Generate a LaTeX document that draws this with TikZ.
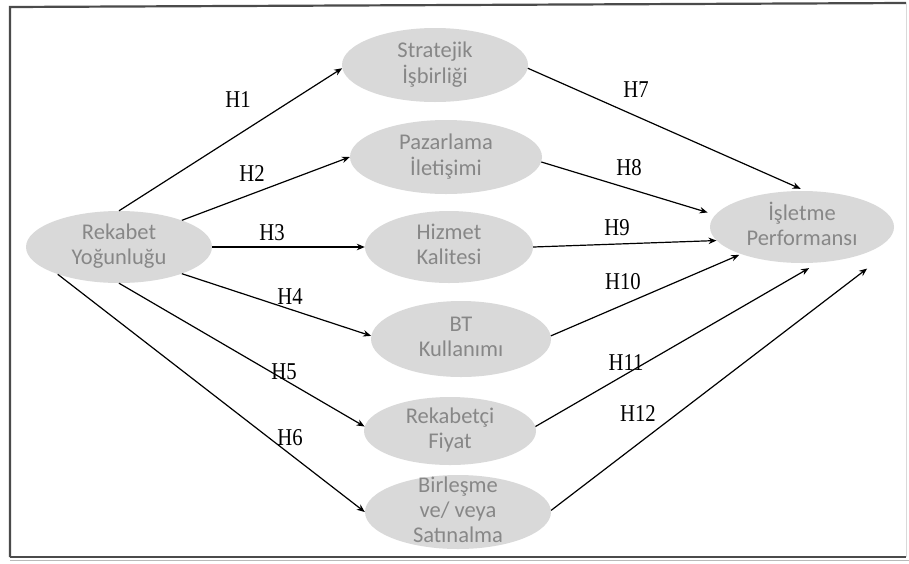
\documentclass[tikz,border=0pt]{standalone}
\usepackage{fontspec}
\setmainfont{Liberation Serif}
\newfontfamily\ellfont{Carlito}
\usetikzlibrary{shapes.geometric,arrows.meta}
\definecolor{ellfill}{RGB}{217,217,217}
\definecolor{elltext}{RGB}{135,135,135}
\definecolor{framecol}{RGB}{75,75,75}
% centred multi-line text that does not enlarge the ellipse
\newcommand{\elltxt}[1]{\raisebox{-5.6pt}[0pt][0pt]{\begin{tabular}{@{}c@{}}#1\end{tabular}}}
% slightly narrow serif for the path labels
\newcommand{\hl}[1]{\scalebox{0.9}[1.05]{#1}}
\begin{document}
\begin{tikzpicture}[x=1pt,y=-1pt,
  ell/.style={ellipse, fill=ellfill, draw=none, inner sep=0pt,
    font=\ellfont\fontsize{22.5}{25}\selectfont, text=elltext},
  hlab/.style={font=\fontsize{23}{25}\selectfont, inner sep=0pt},
  arr/.style={-{Stealth[length=8pt,width=6.5pt]}, line width=1.2pt},
  framel/.style={draw=framecol, line width=2.2pt}]
\useasboundingbox (0,0) rectangle (909,563);
\fill[white] (0,0) rectangle (909,563);

% frame
\draw[gray!55, line width=1pt] (10,560) -- (909,560);
\draw[framel] (10,557) -- (10,7) -- (906,3);
\draw[framel] (10,557) -- (906,557);
\draw[gray!30, line width=1pt] (906,3) -- (906,557);

% constructs
\node[ell, minimum width=186pt, minimum height=72pt] (rek) at (119,247) {\elltxt{Rekabet\\Yoğunluğu}};
\node[ell, minimum width=186pt, minimum height=74pt] (str) at (435,65) {\elltxt{Stratejik\\İşbirliği}};
\node[ell, minimum width=192pt, minimum height=74pt] (paz) at (446,157) {\elltxt{Pazarlama\\İletişimi}};
\node[ell, minimum width=168pt, minimum height=72pt] (hiz) at (449,247) {\elltxt{Hizmet\\Kalitesi}};
\node[ell, minimum width=180pt, minimum height=76pt] (bt) at (461,339) {\elltxt{BT\\Kullanımı}};
\node[ell, minimum width=172pt, minimum height=68pt] (fiy) at (450,431) {\elltxt{Rekabetçi\\Fiyat}};
\node[ell, minimum width=186pt, minimum height=74pt] (bir) at (458,512) {\elltxt{Birleşme\\ve/ veya\\Satınalma}};
\node[ell, minimum width=184pt, minimum height=72pt] (isl) at (802,227) {\elltxt{İşletme\\Performansı}};

% hypothesised paths
\draw[arr] (rek.90) -- (str.182);
\draw[arr] (rek.23) -- (paz.180);
\draw[arr] (rek.0) -- (hiz.180);
\draw[arr] (rek.-23) -- (bt.178);
\draw[arr] (rek.-90) -- (fiy.177);
\draw[arr] (rek.204) -- (bir.180);
\draw[arr, shorten >=5pt] (str.-2) -- (isl.85);
\draw[arr, shorten >=8pt] (paz.-3) -- (isl.172);
\draw[arr] (hiz.0) -- (isl.189);
\draw[arr, shorten >=2pt] (bt.2) -- (isl.204);
\draw[arr, shorten >=11pt] (fiy.3) -- (isl.-65);
\draw[arr] (bir.1) -- ([shift={(20,10)}]isl.-35);

% hypothesis labels
\node[hlab] (h1) at (238,100) {\hl{H1}};
\node[hlab] (h2) at (252,173) {\hl{H2}};
\node[hlab] (h3) at (272,233) {\hl{H3}};
\node[hlab] (h4) at (290,297) {\hl{H4}};
\node[hlab] (h5) at (284,372) {\hl{H5}};
\node[hlab] (h6) at (290,438) {\hl{H6}};
\node[hlab] (h7) at (636,90) {\hl{H7}};
\node[hlab] (h8) at (629,168) {\hl{H8}};
\node[hlab] (h9) at (617,228) {\hl{H9}};
\node[hlab] (h10) at (623,282) {\hl{H10}};
\node[hlab] (h11) at (626,363) {\hl{H11}};
\node[hlab] (h12) at (638,413) {\hl{H12}};
\end{tikzpicture}
\end{document}
